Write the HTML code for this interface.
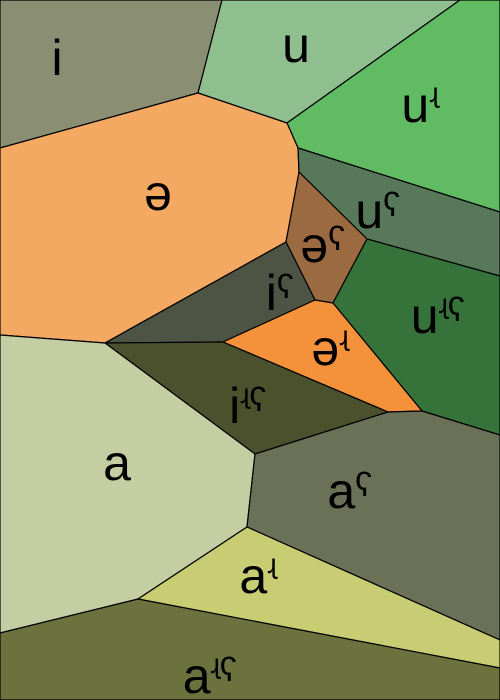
<!DOCTYPE html>
<html><head><meta charset="utf-8">
<style>
html,body{margin:0;padding:0;background:#fff;}
svg{display:block;}
text{font-family:"Liberation Sans","DejaVu Sans",sans-serif;font-size:50px;fill:#000;}
</style></head>
<body>
<svg id="chart" width="500" height="700" viewBox="0 0 500 700"></svg>
<script>
const vowels = ["i","u","uʵ","ə","uˤ","əˤ","iˤ","uʵˤ","əʵ","iʵˤ","a","aˤ","aʵ","aʵˤ"];
const colors = ["#8a8f74","#8fbf8f","#61bb63","#f4a963","#577859","#9b6a40","#4d5443","#35733a","#f4913b","#4a512c","#c5cea2","#6b7157","#c8cd74","#6c723e"];
const labelX = [57,296,420,158,378,323,280,438,330,248,117,350,258,210];
const labelY = [75,62,122,210,228,262,310,333,365,423,480,508,593,693];
const cells = [
 [[0,0],[222,0],[198,93],[0,148]],
 [[222,0],[460,0],[287,123],[198,93]],
 [[460,0],[500,0],[500,212],[298,148],[287,123]],
 [[0,148],[198,93],[287,123],[298,148],[299,172],[286,242],[105,343],[0,335]],
 [[298,148],[500,212],[500,276],[367,239],[299,172]],
 [[299,172],[367,239],[333,303],[315,300],[286,242]],
 [[286,242],[315,300],[223,342],[105,343]],
 [[367,239],[500,276],[500,435],[422,411],[333,303]],
 [[223,342],[315,300],[333,303],[422,411],[388,412]],
 [[105,343],[223,342],[388,412],[255,454]],
 [[0,335],[105,343],[255,454],[247,527],[138,599],[0,633]],
 [[255,454],[388,412],[422,411],[500,435],[500,640],[247,527]],
 [[247,527],[500,640],[500,668],[138,599]],
 [[0,633],[138,599],[500,668],[500,700],[0,700]]
];
const svg = document.getElementById('chart');
const NS = "http://www.w3.org/2000/svg";
cells.forEach((c,i)=>{
  const p = document.createElementNS(NS,'polygon');
  p.setAttribute('points', c.map(v=>v.join(',')).join(' '));
  p.setAttribute('fill', colors[i]);
  p.setAttribute('stroke', '#000');
  p.setAttribute('stroke-width', '1.2');
  p.setAttribute('stroke-linejoin', 'round');
  
  
  svg.appendChild(p);
});
vowels.forEach((v,i)=>{
  const t = document.createElementNS(NS,'text');
  t.setAttribute('x', labelX[i]);
  t.setAttribute('y', labelY[i]);
  t.setAttribute('text-anchor', 'middle');
  
  
  let raised = false;
  for (const ch of v) {
    const s = document.createElementNS(NS,'tspan');
    if (ch === 'ʵ') {
      s.textContent = 'ɻ';
      s.setAttribute('font-size', '28');
      if (!raised) { s.setAttribute('dy', '-20'); raised = true; }
    } else {
      s.textContent = ch;
      if (raised) { s.setAttribute('dy', '20'); raised = false; }
    }
    t.appendChild(s);
  }
  svg.appendChild(t);
});
</script>
</body></html>
